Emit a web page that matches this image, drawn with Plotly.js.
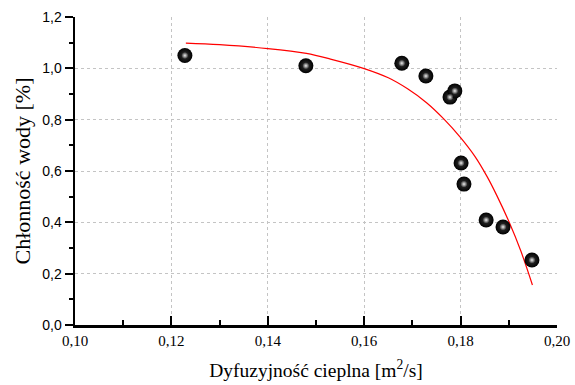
<!DOCTYPE html>
<html>
<head>
<meta charset="utf-8">
<script src="https://cdn.plot.ly/plotly-3.0.1.min.js"></script>
<style>html,body{margin:0;padding:0;background:#fff;}#chart{width:575px;height:385px;}</style>
</head>
<body>
<div id="chart"></div>
<script>
// Measured points
const diffusivity = [0.1228, 0.1479, 0.1678, 0.1728, 0.1778, 0.1788, 0.1801, 0.1807, 0.1853, 0.1888, 0.1948];
const absorption  = [1.05, 1.01, 1.02, 0.97, 0.888, 0.912, 0.631, 0.549, 0.409, 0.382, 0.253];
// Fitted curve
const fitX = [0.1230, 0.1300, 0.1400, 0.1480, 0.1530, 0.1600, 0.1650, 0.1690, 0.1730, 0.1765, 0.1800, 0.1830, 0.1855, 0.1875, 0.1900, 0.1925, 0.1949];
const fitY = [1.098, 1.092, 1.077, 1.058, 1.036, 0.999, 0.963, 0.920, 0.865, 0.803, 0.730, 0.656, 0.578, 0.505, 0.404, 0.288, 0.156];
const xTitle = 'Dyfuzyjność cieplna [m<sup>2</sup>/s]';
const yTitle = 'Chłonność wody [%]';

const serif = 'Liberation Serif';
const sans = 'Liberation Sans';

const traces = [
  {x: fitX, y: fitY, mode: 'lines', line: {color: '#ff0000', width: 1.2, shape: 'spline', smoothing: 1}, hoverinfo: 'skip'},
  {x: diffusivity, y: absorption, mode: 'markers',
   marker: {size: 15, color: '#000', gradient: {type: 'radial', color: '#3a3a3a'}, line: {width: 0}}},
  {x: diffusivity, y: absorption, mode: 'markers',
   marker: {size: 7, color: 'rgba(255,255,255,0)', gradient: {type: 'radial', color: 'rgba(255,255,255,0.9)'}, line: {width: 0}}}
];

const layout = {
  width: 575, height: 385,
  margin: {l: 75, r: 18, t: 17, b: 60},
  paper_bgcolor: '#fff', plot_bgcolor: '#fff',
  showlegend: false,
  separators: ', ',
  xaxis: {
    range: [0.10, 0.20], dtick: 0.02, tick0: 0.10, tickformat: '.2f',
    showline: true, linecolor: '#000', linewidth: 2.5, zeroline: false,
    ticks: 'inside', ticklen: 9, tickwidth: 2, tickcolor: '#000',
    minor: {dtick: 0.01, ticks: 'inside', ticklen: 5, tickwidth: 2, tickcolor: '#000', showgrid: false},
    showgrid: true, gridcolor: '#c4c4c4', gridwidth: 1, griddash: 'dot',
    tickfont: {family: serif, size: 15, color: '#000'},
    title: {text: xTitle, font: {family: serif, size: 19.5, color: '#000'}, standoff: 16}
  },
  yaxis: {
    range: [0, 1.2], dtick: 0.2, tick0: 0, tickformat: '.1f',
    showline: true, linecolor: '#000', linewidth: 2.5, zeroline: false,
    ticks: 'outside', ticklen: 8, tickwidth: 2, tickcolor: '#000',
    minor: {dtick: 0.1, ticks: 'outside', ticklen: 4, tickwidth: 2, tickcolor: '#000', showgrid: false},
    showgrid: true, gridcolor: '#c4c4c4', gridwidth: 1, griddash: 'dot',
    tickfont: {family: sans, size: 14, color: '#000'},
    title: {text: yTitle, font: {family: serif, size: 22, color: '#000'}, standoff: 6}
  }
};

Plotly.newPlot('chart', traces, layout, {staticPlot: true, displayModeBar: false});
</script>
</body>
</html>
